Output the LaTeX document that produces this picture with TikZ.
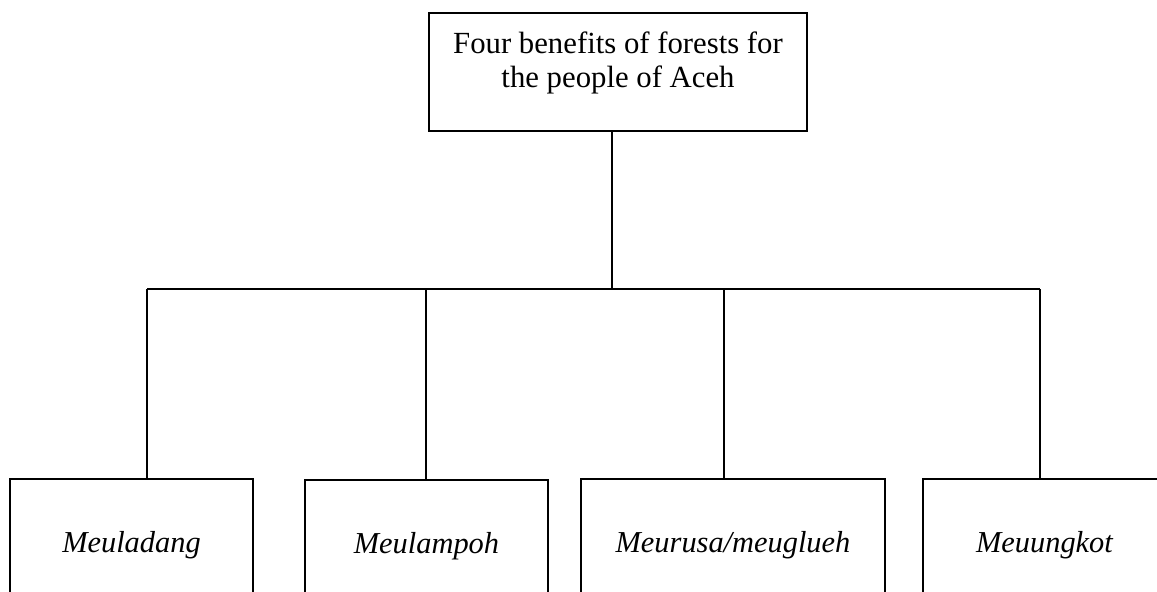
\documentclass[tikz,border=0pt]{standalone}
\usepackage{fontspec}
\setmainfont{Liberation Serif}

\begin{document}
\begin{tikzpicture}[
        x=0.02cm, y=-0.02cm,
        topbox/.style={rectangle, draw, line width=1.3pt, minimum width=7.56cm, minimum height=2.36cm},
        benefit/.style={rectangle, draw, line width=1.3pt, minimum height=2.64cm, font=\fontsize{17.3}{20}\selectfont\itshape},
        link/.style={line width=0.6pt}
    ]

    % Fix the page and cut off the lower edge of the boxes
    \clip (0,0) rectangle (1157,592);
    \useasboundingbox (0,0) rectangle (1157,592);

    % Define the top box
    \node[topbox] (top) at (618,72) {};
    \node[align=center, font=\fontsize{17.5}{19.2}\selectfont] (toptext) at (618,63) {Four benefits of forests for\\the people of Aceh};

    % Define the four benefits
    \node[benefit, minimum width=4.86cm] (b1) at (131.5,545) {Meuladang};
    \node[benefit, minimum width=4.86cm] (b2) at (426.5,546) {Meulampoh};
    \node[benefit, minimum width=6.08cm] (b3) at (733,545) {Meurusa/meuglueh};
    \node[benefit, minimum width=4.86cm] (b4) at (1044.5,545) {Meuungkot};

    % Branch points
    \coordinate (hub) at (612,289);
    \coordinate (c1) at (147,289);
    \coordinate (c2) at (426,290);
    \coordinate (c3) at (724,289);
    \coordinate (c4) at (1040,289);

    % Draw the tree
    \draw[link] (top.south -| hub) -- (hub);
    \draw[link] (c1) -- (c4);
    \draw[link] (c1) -- (c1 |- b1.north);
    \draw[link] (c2) -- (c2 |- b2.north);
    \draw[link] (c3) -- (c3 |- b3.north);
    \draw[link] (c4) -- (c4 |- b4.north);

\end{tikzpicture}
\end{document}
